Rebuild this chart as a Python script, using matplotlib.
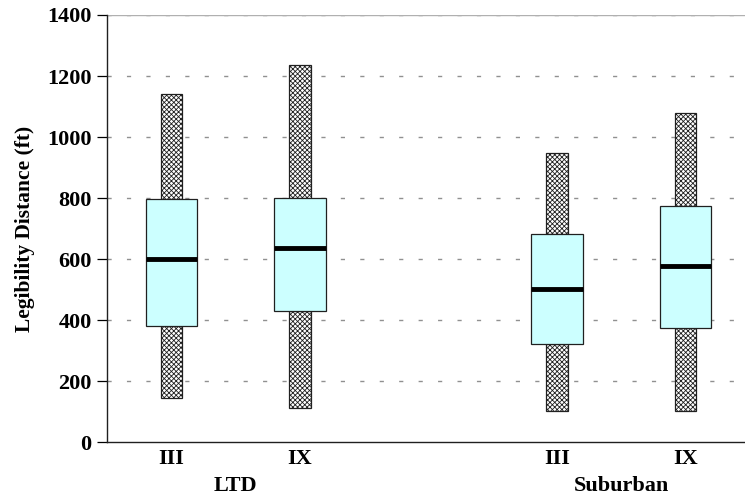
import matplotlib
matplotlib.use("Agg")
import matplotlib.pyplot as plt

plt.rcParams['hatch.color'] = '#8c8c8c'
plt.rcParams['hatch.linewidth'] = 0.6

# Data
groups = ["LTD", "Suburban"]
sign_types = ["III", "IX", "III", "IX"]
positions = [1, 2, 4, 5]
whisker_low = [144, 111, 102, 102]
box_low = [382, 430, 321, 376]
median = [602, 635, 502, 578]
box_high = [797, 802, 682, 775]
whisker_high = [1142, 1235, 949, 1078]
group_centers = [1.5, 4.5]

fig = plt.figure(figsize=(7.45, 4.98), dpi=100)
ax = fig.add_axes([0.1436, 0.1118, 0.8564, 0.8581])

box_w = 0.40
wh_w = 0.167
font = ['Liberation Serif', 'DejaVu Serif']

# grid
yticks = [0, 200, 400, 600, 800, 1000, 1200, 1400]
for yv in yticks[1:]:
    ax.axhline(yv, color='#909090', lw=1.0, ls=(0, (3, 11)), zorder=0)
ax.axhline(1400, color='#b0b0b0', lw=1.0, zorder=0)

for i, p in enumerate(positions):
    # lower whisker
    ax.bar(p, box_low[i] - whisker_low[i], bottom=whisker_low[i], width=wh_w,
           color='white', edgecolor='#202020', hatch='xxxxxxx', lw=0.9, zorder=2)
    # upper whisker
    ax.bar(p, whisker_high[i] - box_high[i], bottom=box_high[i], width=wh_w,
           color='white', edgecolor='#202020', hatch='xxxxxxx', lw=0.9, zorder=2)
    # box
    ax.bar(p, box_high[i] - box_low[i], bottom=box_low[i], width=box_w,
           color='#ccffff', edgecolor='#202020', lw=0.9, zorder=3)
    # median
    ax.plot([p - box_w / 2, p + box_w / 2], [median[i], median[i]],
            color='black', lw=3.5, solid_capstyle='butt', zorder=4)

ax.set_xlim(0.498, 5.463)
ax.set_ylim(0, 1400)
ax.set_yticks(yticks)
ax.set_yticklabels([str(v) for v in yticks], fontfamily=font, fontweight='bold', fontsize=16)
ax.set_xticks(positions)
ax.set_xticklabels(sign_types, fontfamily=font, fontweight='bold', fontsize=16)
ax.tick_params(axis='x', length=0, pad=5)
ax.tick_params(axis='y', length=7, width=0.9, direction='out', pad=4)

for gc, g in zip(group_centers, groups):
    ax.text(gc, -142, g, ha='center', va='center', fontfamily=font,
            fontweight='bold', fontsize=16, transform=ax.transData)

ax.set_ylabel("Legibility Distance (ft)", fontfamily=font, fontweight='bold', fontsize=15.5, labelpad=9)

ax.spines['top'].set_visible(False)
ax.spines['right'].set_visible(False)
ax.spines['left'].set_color('#202020')
ax.spines['bottom'].set_color('#202020')
ax.spines['left'].set_linewidth(1.0)
ax.spines['bottom'].set_linewidth(1.0)

fig.savefig("out.png", dpi=100)
